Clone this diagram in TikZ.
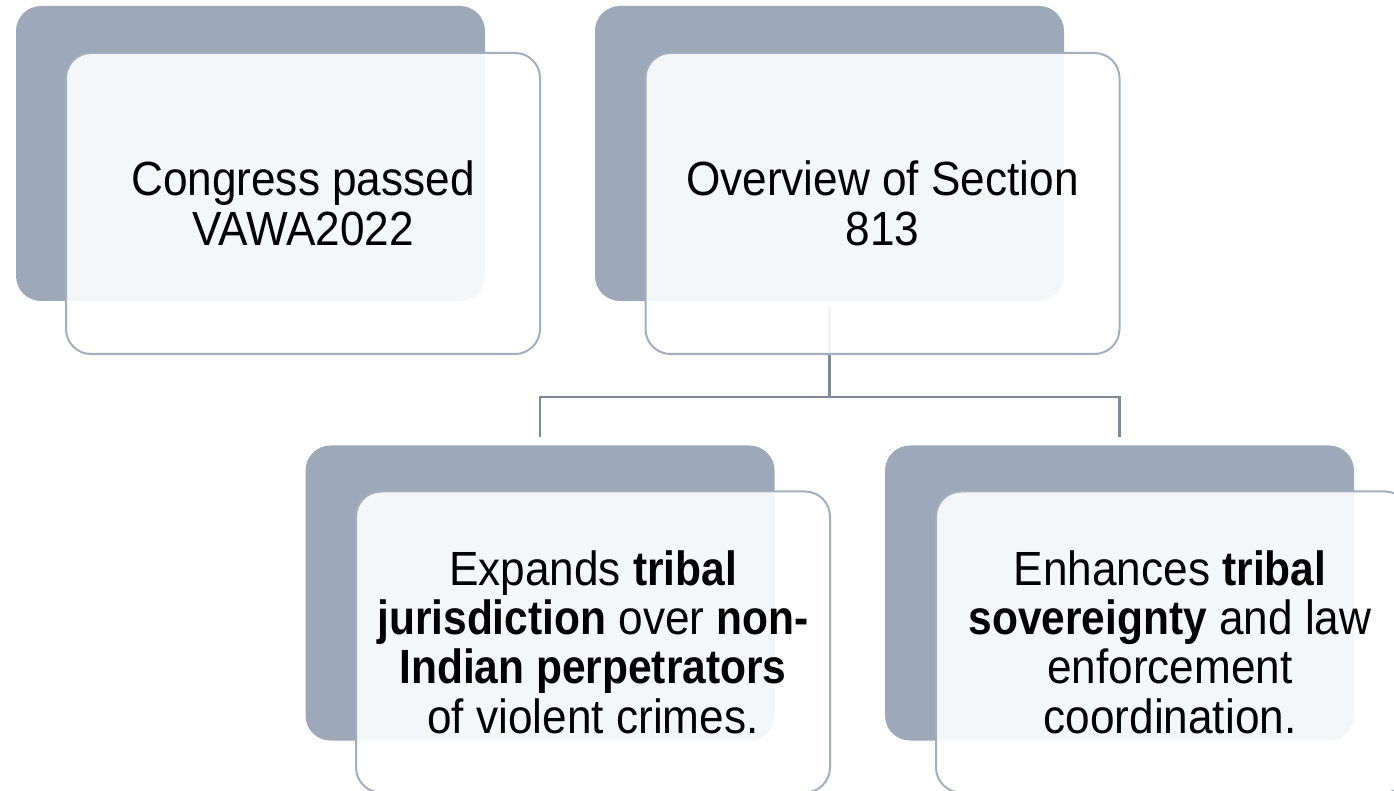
\documentclass[tikz,border=0pt]{standalone}
\usepackage{fontspec}
\setmainfont[FakeStretch=0.92,BoldFeatures={FakeStretch=0.885}]{Liberation Sans}
\definecolor{backgray}{HTML}{9DA9B8}
\definecolor{edgegray}{HTML}{A3AFBE}
\definecolor{linkgray}{HTML}{7F8A99}
\begin{document}
\begin{tikzpicture}[x=0.5pt,y=-0.5pt,
  backbox/.style={fill=backgray, rounded corners=12.5pt, minimum width=234.5pt, minimum height=147.5pt, inner sep=0pt},
  frontbox/.style={draw=edgegray, line width=1pt, fill=white, fill opacity=0.9, rounded corners=12.5pt, minimum width=237pt, minimum height=150.5pt, inner sep=0pt},
  boxtext/.style={text=black, align=center, inner sep=0pt, font=\fontsize{24}{24.7}\selectfont},
  link/.style={draw=linkgray, line width=1.2pt}]
\useasboundingbox (0,0) rectangle (1394,791);
\clip (0,0) rectangle (1394,791);
% back boxes
\node[backbox] (b1) at (250.5,153.5) {};
\node[backbox] (b2) at (829.5,153.5) {};
\node[backbox] (b3) at (540,593) {};
\node[backbox] (b4) at (1119.5,593) {};
% connectors
\coordinate (j) at (829.5,397);
\draw[link, shorten <=3pt] (b2.south) -- (j);
\draw[link, shorten >=4pt] (j) -| (b3.north);
\draw[link, shorten >=4pt] (j) -| (b4.north);
% front boxes
\node[frontbox] (f1) at (303,203.5) {};
\node[frontbox] (f2) at (882.5,203.5) {};
\node[frontbox] (f3) at (593,642) {};
\node[frontbox] (f4) at (1173,642) {};
% texts
\node[boxtext] (t1) at (f1.center) {Congress passed\\VAWA2022};
\node[boxtext] (t2) at (f2.center) {Overview of Section\\813};
\node[boxtext] (t3) at (f3.center) {Expands \textbf{tribal}\\\textbf{jurisdiction} over \textbf{non-}\\\textbf{Indian perpetrators}\\of violent crimes.};
\node[boxtext] (t4) at (1170,642) {Enhances \textbf{tribal}\\\textbf{sovereignty} and law\\enforcement\\coordination.};
\end{tikzpicture}
\end{document}
